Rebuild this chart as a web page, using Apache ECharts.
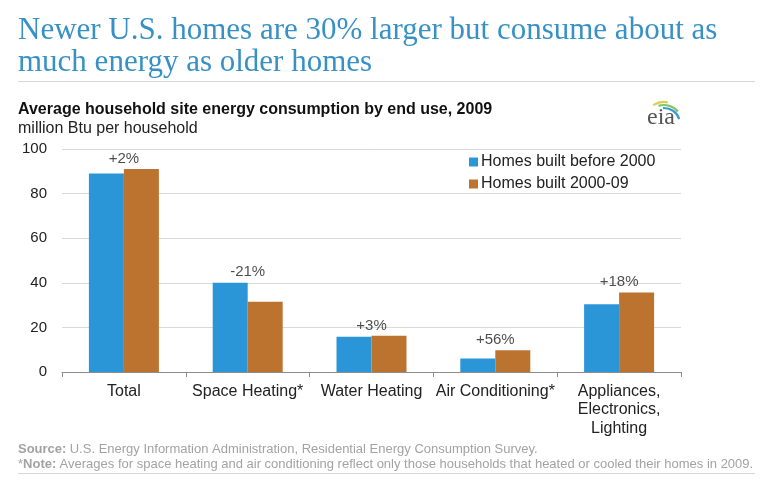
<!DOCTYPE html>
<html>
<head>
<meta charset="utf-8">
<script src="https://cdn.jsdelivr.net/npm/echarts@6/dist/echarts.min.js"></script>
<style>
html,body{margin:0;padding:0;background:#fff;}
#chart{width:770px;height:485px;}
</style>
</head>
<body>
<div id="chart"></div>
<script>
var categories = ['Total', 'Space Heating*', 'Water Heating', 'Air Conditioning*', 'Appliances,\nElectronics,\nLighting'];
var before2000 = [89, 40, 15.8, 6.1, 30.4];
var built2000s = [91, 31.5, 16.2, 9.8, 35.6];
var changeLabels = ['+2%', '-21%', '+3%', '+56%', '+18%'];
var yTicks = [0, 20, 40, 60, 80, 100];
var seriesNames = ['Homes built before 2000', 'Homes built 2000-09'];

var labelPoints = categories.map(function (c, i) {
  return { value: [i, Math.max(before2000[i], built2000s[i])], label: { formatter: changeLabels[i] } };
});

var chart = echarts.init(document.getElementById('chart'), null, { renderer: 'canvas' });
var sans = 'Arial, "Liberation Sans", sans-serif';
var serif = '"Times New Roman", "Liberation Serif", serif';

chart.setOption({
  animation: false,
  backgroundColor: '#ffffff',
  grid: { left: 62, right: 89, top: 149, bottom: 113, containLabel: false },
  legend: {
    data: seriesNames,
    orient: 'vertical',
    left: 464,
    top: 149,
    itemWidth: 9,
    itemHeight: 9,
    itemGap: 6,
    icon: 'rect',
    textStyle: { fontFamily: sans, fontSize: 16, color: '#222', padding: [0, 0, 0, -2] }
  },
  xAxis: {
    type: 'category',
    data: categories,
    axisLine: { lineStyle: { color: '#8c8c8c', width: 1 } },
    axisTick: { show: true, length: 5, lineStyle: { color: '#8c8c8c' } },
    axisLabel: { fontFamily: sans, fontSize: 16, color: '#222', margin: 10, lineHeight: 18.5, interval: 0 }
  },
  yAxis: {
    type: 'value',
    min: yTicks[0],
    max: yTicks[yTicks.length - 1],
    interval: yTicks[1] - yTicks[0],
    axisLine: { show: false },
    axisTick: { show: false },
    splitLine: { lineStyle: { color: '#d9d9d9', width: 1 } },
    axisLabel: { fontFamily: sans, fontSize: 15, color: '#222', margin: 15 }
  },
  series: [
    { name: seriesNames[0], type: 'bar', data: before2000, barWidth: 35, barGap: '0%', itemStyle: { color: '#2b96d7' } },
    { name: seriesNames[1], type: 'bar', data: built2000s, barWidth: 35, barGap: '0%', itemStyle: { color: '#bd7330' } },
    {
      type: 'scatter', data: labelPoints, symbolSize: 0, silent: true, z: 5,
      label: { show: true, position: 'top', distance: 3, fontFamily: sans, fontSize: 15, color: '#222' }
    }
  ],
  graphic: [
    { type: 'text', left: 18, top: 15, style: { text: 'Newer U.S. homes are 30% larger but consume about as', font: '31px ' + serif, fill: '#3791c4' } },
    { type: 'text', left: 18, top: 47, style: { text: 'much energy as older homes', font: '31px ' + serif, fill: '#3791c4' } },
    { type: 'line', shape: { x1: 18, y1: 81.5, x2: 755, y2: 81.5 }, style: { stroke: '#d6d6d6', lineWidth: 1 } },
    { type: 'text', left: 18, top: 102, style: { text: 'Average household site energy consumption by end use, 2009', font: 'bold 16px ' + sans, fill: '#111' } },
    { type: 'text', left: 18, top: 121, style: { text: 'million Btu per household', font: '16px ' + sans, fill: '#222' } },
    { type: 'arc', shape: { cx: 664, cy: 122, r: 20, startAngle: Math.PI * 1.32, endAngle: Math.PI * 1.56 }, style: { stroke: '#d9cf4c', lineWidth: 2.2, fill: null } },
    { type: 'arc', shape: { cx: 664, cy: 123, r: 18, startAngle: Math.PI * 1.4, endAngle: Math.PI * 1.78 }, style: { stroke: '#82c26c', lineWidth: 2.2, fill: null } },
    { type: 'arc', shape: { cx: 664, cy: 124, r: 16, startAngle: Math.PI * 1.48, endAngle: Math.PI * 1.9 }, style: { stroke: '#3a9bd3', lineWidth: 2.2, fill: null } },
    { type: 'text', left: 647, top: 106, style: { text: 'eia', font: '24px ' + serif, fill: '#555' } },
    { type: 'text', left: 18, top: 443, style: { rich: { b: { font: 'bold 13px ' + sans, fill: '#a3a3a3' }, n: { font: '13px ' + sans, fill: '#a3a3a3' } }, text: '{b|Source:} {n|U.S. Energy Information Administration, Residential Energy Consumption Survey.}' } },
    { type: 'text', left: 18, top: 458, style: { rich: { b: { font: 'bold 13px ' + sans, fill: '#a3a3a3' }, n: { font: '13px ' + sans, fill: '#a3a3a3' } }, text: '{n|*}{b|Note:} {n|Averages for space heating and air conditioning reflect only those households that heated or cooled their homes in 2009.}' } },
    { type: 'line', shape: { x1: 18, y1: 473.5, x2: 755, y2: 473.5 }, style: { stroke: '#d6d6d6', lineWidth: 1 } }
  ]
});
</script>
</body>
</html>
